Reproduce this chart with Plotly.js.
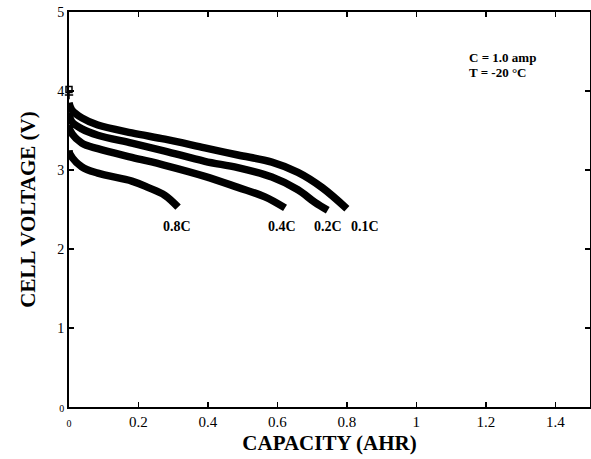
<!DOCTYPE html>
<html>
<head>
<meta charset="utf-8">
<script src="https://cdn.plot.ly/plotly-3.0.1.min.js"></script>
<style>html,body{margin:0;padding:0;background:#fff;}#chart{width:591px;height:459px;}</style>
</head>
<body>
<div id="chart"></div>
<script>
// Discharge curves (capacity in AHR, voltage in V)
const x01 = [0, 0.008, 0.037, 0.083, 0.181, 0.276, 0.391, 0.486, 0.584, 0.659, 0.728, 0.800];
const y01 = [3.85, 3.76, 3.66, 3.57, 3.47, 3.39, 3.28, 3.19, 3.10, 2.97, 2.78, 2.51];
const x02 = [0, 0.008, 0.037, 0.083, 0.181, 0.276, 0.391, 0.486, 0.584, 0.659, 0.708, 0.745];
const y02 = [3.72, 3.61, 3.52, 3.44, 3.34, 3.24, 3.11, 3.03, 2.91, 2.75, 2.59, 2.49];
const x04 = [0, 0.003, 0.037, 0.083, 0.181, 0.276, 0.391, 0.486, 0.564, 0.622];
const y04 = [3.57, 3.50, 3.34, 3.27, 3.16, 3.06, 2.92, 2.78, 2.66, 2.52];
const x08 = [0, 0.003, 0.037, 0.083, 0.181, 0.227, 0.276, 0.314];
const y08 = [3.25, 3.20, 3.04, 2.96, 2.86, 2.78, 2.68, 2.53];
const startX = [0, 0];
const startY = [4.02, 3.95];

const curveLabels = ['0.8C', '0.4C', '0.2C', '0.1C'];
const labelX = [0.311, 0.613, 0.745, 0.852];
const labelY = [2.29, 2.29, 2.29, 2.29];

const noteLines = ['C = 1.0 amp', 'T = -20 °C'];
const noteX = [1.145, 1.145];
const noteY = [4.43, 4.24];

const xTickVals = [0, 0.2, 0.4, 0.6, 0.8, 1, 1.2, 1.4];
const xTickText = ["<span style='font-size:10px'>0</span>", '0.2', '0.4', '0.6', '0.8', '1', '1.2', '1.4'];
const yTickVals = [0, 1, 2, 3, 4, 5];
const yTickText = ["<span style='font-size:10px'>0</span>", '1', '2', '3', '4', '5'];

const FONT = 'Liberation Serif, Times New Roman, serif';
const lineStyle = {color: '#000', width: 7.5, shape: 'spline', smoothing: 1};
const traces = [
  {x: x01, y: y01, mode: 'lines', line: lineStyle, hoverinfo: 'skip'},
  {x: x02, y: y02, mode: 'lines', line: lineStyle, hoverinfo: 'skip'},
  {x: x04, y: y04, mode: 'lines', line: lineStyle, hoverinfo: 'skip'},
  {x: x08, y: y08, mode: 'lines', line: lineStyle, hoverinfo: 'skip'},
  {x: startX, y: startY, mode: 'markers', marker: {symbol: ['square-open', 'cross-thin-open'], size: 6, color: '#000', line: {color: '#000', width: 1.5}}, hoverinfo: 'skip', cliponaxis: false}
];

const annotations = [];
curveLabels.forEach((t, i) => annotations.push({x: labelX[i], y: labelY[i], text: '<b>' + t + '</b>', showarrow: false, xanchor: 'center', yanchor: 'middle', font: {family: FONT, size: 14, color: '#000'}}));
noteLines.forEach((t, i) => annotations.push({x: noteX[i], y: noteY[i], text: '<b>' + t + '</b>', showarrow: false, xanchor: 'left', yanchor: 'middle', font: {family: FONT, size: 13, color: '#000'}}));

const layout = {
  width: 591, height: 459,
  margin: {l: 69, r: 1, t: 12, b: 52},
  paper_bgcolor: '#fff', plot_bgcolor: '#fff',
  showlegend: false,
  font: {family: FONT, color: '#000'},
  xaxis: {
    range: [0, 1.5], tickvals: xTickVals, ticktext: xTickText,
    ticks: 'inside', ticklen: 5, tickwidth: 1.5, tickcolor: '#000',
    showline: true, linewidth: 2, linecolor: '#000', mirror: 'ticks',
    showgrid: false, zeroline: false,
    tickfont: {family: FONT, size: 15, color: '#000'},
    title: {text: '<b>CAPACITY (AHR)</b>', font: {family: FONT, size: 21, color: '#000'}, standoff: 6}
  },
  yaxis: {
    range: [0, 5], tickvals: yTickVals, ticktext: yTickText,
    ticks: 'inside', ticklen: 5, tickwidth: 1.5, tickcolor: '#000',
    showline: true, linewidth: 2, linecolor: '#000', mirror: 'ticks',
    showgrid: false, zeroline: false,
    tickfont: {family: FONT, size: 14, color: '#000'},
    title: {text: '<b>CELL VOLTAGE (V)</b>', font: {family: FONT, size: 21, color: '#000'}, standoff: 16}
  },
  annotations: annotations
};

Plotly.newPlot('chart', traces, layout, {staticPlot: true, displayModeBar: false});
</script>
</body>
</html>
